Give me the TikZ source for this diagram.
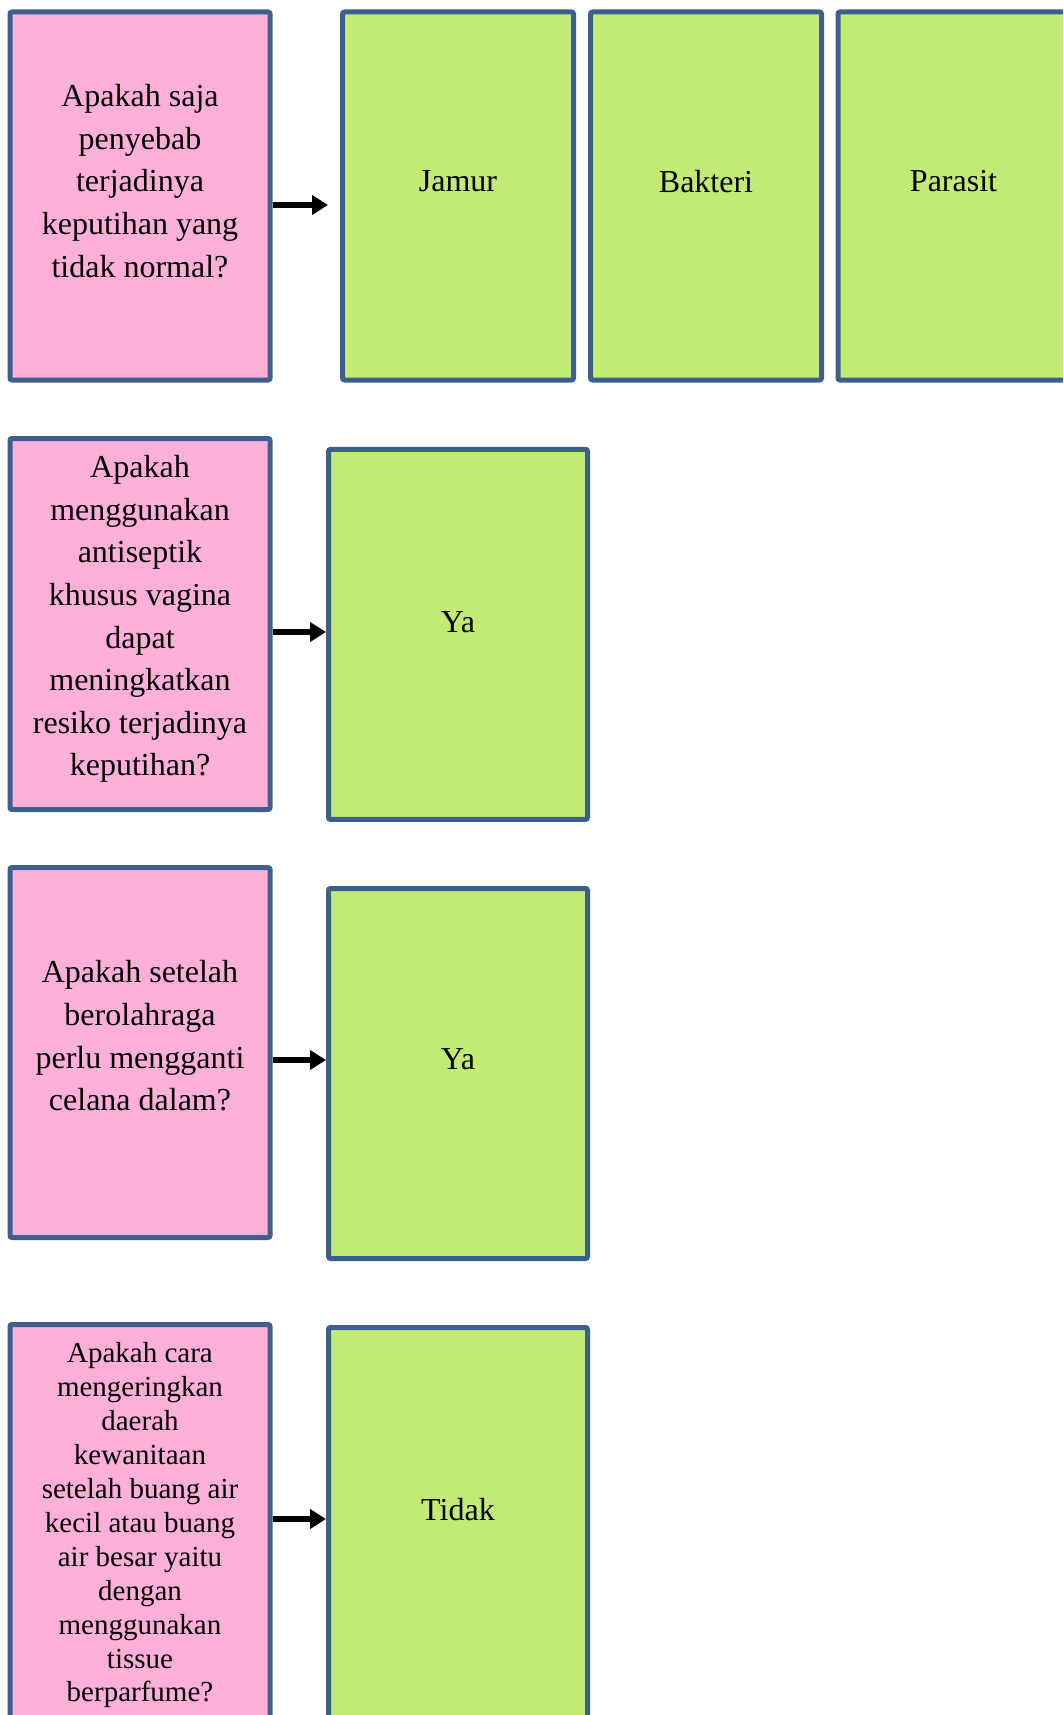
\documentclass[tikz,border=0pt]{standalone}
\usepackage{fontspec}
\setmainfont{Liberation Serif}
\usetikzlibrary{arrows.meta}

\definecolor{qpink}{HTML}{FEB0D8}
\definecolor{agreen}{HTML}{C2EB73}
\definecolor{frame}{HTML}{3D5F8D}

\tikzset{
  qbox/.style={rectangle, draw=frame, line width=5pt, fill=qpink, rounded corners=2pt,
               inner sep=0pt, minimum width=260pt},
  abox/.style={rectangle, draw=frame, line width=5pt, fill=agreen, rounded corners=2pt,
               inner sep=0pt},
  qtext/.style={align=center, inner sep=0pt, font=\fontsize{32}{42.6}\selectfont},
  atext/.style={inner sep=0pt, font=\fontsize{32}{42.6}\selectfont},
  arr/.style={line width=6.5pt, -{Triangle[length=16pt,width=19pt]}}
}

\begin{document}
\begin{tikzpicture}[x=1pt, y=-1pt]
\useasboundingbox (0,0) rectangle (1063,1715);
\fill[white] (0,0) rectangle (1063,1715);
\clip (0,0) rectangle (1063,1715);

% row 1: causes
\node[qbox, minimum height=368pt] (q1) at (140,196) {};
\node[abox, minimum width=231pt, minimum height=368pt] (jamur) at (458,196) {};
\node[abox, minimum width=231pt, minimum height=368pt] (bakteri) at (706,196) {};
\node[abox, minimum width=231pt, minimum height=368pt] (parasit) at (953.5,196) {};
\node[qtext] (q1t) at (140,181) {Apakah saja\\penyebab\\terjadinya\\keputihan yang\\tidak normal?};
\node[atext] (jamurt) at (458,181.5) {Jamur};
\node[atext] (bakterit) at (706,181.5) {Bakteri};
\node[atext] (parasitt) at (953.5,181.5) {Parasit};
\coordinate (r1) at (0,205);
\draw[arr] (q1.east |- r1) -- ([xshift=-12pt]jamur.west |- r1);

% row 2: antiseptic
\node[qbox, minimum height=371pt] (q2) at (140,624) {};
\node[abox, minimum width=259pt, minimum height=370pt] (a2) at (458,634.4) {};
\node[qtext] (q2t) at (140,619) {Apakah\\menggunakan\\antiseptik\\khusus vagina\\dapat\\meningkatkan\\resiko terjadinya\\keputihan?};
\node[atext] (a2t) at (458,622) {Ya};
\coordinate (r2) at (0,632);
\draw[arr] (q2.east |- r2) -- (a2.west |- r2);

% row 3: after exercise
\node[qbox, minimum height=370pt] (q3) at (140,1052.5) {};
\node[abox, minimum width=259pt, minimum height=370pt] (a3) at (458,1073.5) {};
\node[qtext] (q3t) at (140,1036) {Apakah setelah\\berolahraga\\perlu mengganti\\celana dalam?};
\node[atext] (a3t) at (458,1059) {Ya};
\coordinate (r3) at (0,1060);
\draw[arr] (q3.east |- r3) -- (a3.west |- r3);

% row 4: drying with perfumed tissue
\node[qbox, minimum height=434pt] (q4) at (140,1541.5) {};
\node[abox, minimum width=259pt, minimum height=431pt] (a4) at (458,1543) {};
\node[qtext, font=\fontsize{29}{33.9}\selectfont] (q4t) at (140,1525.5) {Apakah cara\\mengeringkan\\daerah\\kewanitaan\\setelah buang air\\kecil atau buang\\air besar yaitu\\dengan\\menggunakan\\tissue\\berparfume?};
\node[atext] (a4t) at (458,1510) {Tidak};
\coordinate (r4) at (0,1519);
\draw[arr] (q4.east |- r4) -- (a4.west |- r4);
\end{tikzpicture}
\end{document}
